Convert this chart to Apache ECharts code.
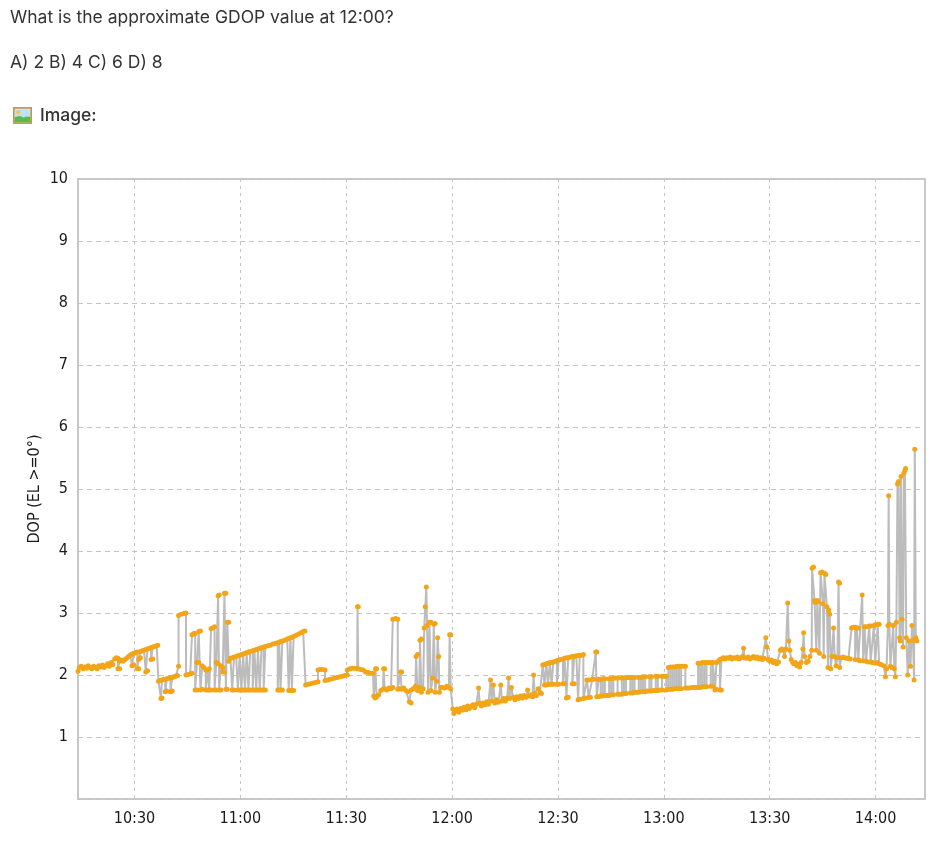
<!DOCTYPE html>
<html>
<head>
<meta charset="utf-8">
<script src="https://cdn.jsdelivr.net/npm/echarts@6/dist/echarts.min.js"></script>
<style>
  html, body { margin:0; padding:0; background:#fff; }
  body { width:945px; height:842px; position:relative; overflow:hidden; font-family: Inter, "Noto Sans", sans-serif; color:#333; }
  .q { position:absolute; left:10px; font-size:17.5px; line-height:17.5px; white-space:nowrap; }
  #chart { position:absolute; left:0; top:0; width:945px; height:842px; }
  .icon { position:absolute; left:13px; top:107px; width:19px; height:17px; }
</style>
</head>
<body>
<div id="chart"></div>
<div class="q" style="top:8px;">What is the approximate GDOP value at 12:00?</div>
<div class="q" style="top:53px;">A) 2 B) 4 C) 6 D) 8</div>
<svg class="icon" viewBox="0 0 18 16">
  <rect x="0.75" y="0.75" width="16.5" height="14.5" fill="#bfe3f5" stroke="#c9934a" stroke-width="1.5"/>
  <circle cx="5" cy="5" r="2" fill="#f5c842"/>
  <path d="M1.5 14.5 L1.5 10 Q6 7 10 10 Q13 8 16.5 9.5 L16.5 14.5 Z" fill="#5fb84a"/>
</svg>
<div class="q" style="top:106px; left:40px; font-weight:500;">Image:</div>
<script>
// x values: minutes after 10:00
const xTickMinutes = [30, 60, 90, 120, 150, 180, 210, 240];
const yTicks = [0,1,2,3,4,5,6,7,8,9,10];

const segA = [[14.0,2.06],[14.4,2.12],[14.9,2.14],[15.4,2.1],[15.9,2.13],[16.4,2.11],[16.9,2.15],[17.4,2.12],[17.9,2.1],[18.4,2.14],[18.9,2.12],[19.4,2.1],[19.9,2.15],[20.4,2.13],[20.9,2.16],[21.4,2.12],[21.9,2.15],[22.4,2.18],[22.9,2.14],[23.4,2.2],[23.9,2.17],
[24.4,2.26],[24.9,2.28],[25.3,2.27],[25.3,2.1],[25.8,2.1],[25.8,2.22],[26.3,2.24],[26.8,2.22],[27.3,2.25],[27.8,2.27],[28.3,2.3],[28.8,2.32],[29.3,2.34],[29.3,2.15],[29.8,2.16],[29.8,2.35],[30.3,2.36],[30.8,2.37],[30.8,2.1],[31.2,2.1],[31.2,2.25],[31.7,2.28],[31.7,2.38],[32.2,2.39],[32.7,2.4],[33.2,2.41],[33.2,2.05],[33.7,2.07],[33.7,2.42],[34.2,2.43],[34.7,2.44],[34.7,2.25],[35.2,2.26],[35.2,2.45],[35.7,2.46],[36.3,2.47],[36.6,2.48]];
const segB = [[36.8,1.9],[37.3,1.91],[37.5,1.62],[37.8,1.63],[37.8,1.92],[38.3,1.93],[38.7,1.93],[38.7,1.73],[39.2,1.74],[39.2,1.94],[39.7,1.95],[40.2,1.95],[40.2,1.73],[40.7,1.74],[40.7,1.96],[41.2,1.97],[41.7,1.98],[42.2,1.99]];
const segC = [[42.5,2.14],[42.5,2.96],[43.2,2.98],[44.0,2.99],[44.6,3.0],[44.6,2.0],[45.2,2.01],[45.8,2.02],[46.3,2.03],[46.3,2.65],[46.8,2.67],[47.2,2.67],[47.2,1.76],[47.7,1.76],[47.7,2.2],[48.2,2.2],[48.2,2.7],[48.7,2.71],[48.7,1.76],[49.2,1.77],[49.2,2.15],[49.7,2.12],[50.2,2.08],[50.2,1.76],[50.7,1.76],[50.7,2.08],[51.2,2.1],[51.2,1.76],[51.7,1.76],[51.7,2.75],[52.2,2.76],[52.7,2.78],[52.7,1.76],[53.2,1.76],[53.2,2.2],[53.7,2.18],[53.7,3.28],[54.0,3.29],[54.0,1.76],[54.5,1.76],[54.5,2.15],[55.0,2.12],[55.0,2.05],[55.5,2.05],[55.5,3.32],[55.9,3.32],[55.9,1.77],[56.3,1.77],[56.3,2.85],[56.7,2.85],[56.7,2.22]];
const segD = [[57.2,2.27],[57.7,2.28],[57.7,1.76],[58.2,1.76],[58.2,2.29],[58.8,2.3],[59.3,2.31],[59.3,1.76],[59.8,1.76],[59.8,2.32],[60.3,2.33],[60.3,1.76],[60.8,1.76],[60.8,2.34],[61.3,2.35],[61.3,1.76],[61.8,1.76],[61.8,2.36],[62.3,2.37],[62.3,1.76],[62.8,1.76],[62.8,2.38],[63.5,2.39],[63.5,1.76],[64.0,1.76],[64.0,2.4],[64.5,2.41],[64.5,1.76],[65.0,1.76],[65.0,2.42],[65.5,2.43],[65.5,1.76],[66.0,1.76],[66.0,2.44],[66.6,2.45],[66.6,1.76],[67.1,1.76],[67.1,2.46],[67.8,2.47],[68.5,2.48],[69.2,2.5],[69.9,2.51],[70.6,2.52],[70.6,1.76],[71.0,1.76],[71.0,2.53],[71.4,2.54],[71.4,1.76],[71.9,1.76],[71.9,2.55],[72.6,2.56],[73.3,2.58],[73.7,2.59],[73.7,1.75],[74.2,1.75],[74.2,2.6],[74.6,2.61],[74.6,1.75],[75.1,1.75],[75.1,2.62],[75.8,2.64],[76.5,2.66],[77.2,2.68],[77.8,2.7],[78.3,2.71]];
const segE = [[78.5,1.84],[79.2,1.85],[79.9,1.86],[80.6,1.87],[81.3,1.88],[82.0,1.89],[82.0,2.08],[82.6,2.09],[83.3,2.09],[84.0,2.08],[84.0,1.91],[84.7,1.92],[85.4,1.93],[86.1,1.94],[86.8,1.95],[87.5,1.96],[88.2,1.97],[88.9,1.98],[89.6,1.99],[90.3,2.0]];
const segF = [[90.3,2.08],[91.0,2.1],[91.7,2.11],[92.4,2.11],[93.1,2.1],[93.2,3.1],[93.4,3.1],[93.4,2.1],[94.1,2.09],[94.8,2.08],[95.5,2.05],[96.2,2.04],[96.9,2.03],[97.6,2.03]];
const segG = [[97.8,1.66],[98.2,1.63],[98.3,2.1],[98.6,2.1],[98.6,1.65],[99.2,1.68],[99.8,1.75],[100.4,1.77],[100.6,2.1],[100.9,2.1],[100.9,1.78],[101.5,1.76],[102.1,1.79],[102.7,1.78],[103.2,1.8],[103.2,2.9],[104.0,2.91],[104.6,2.9],[104.6,1.77],[105.1,1.78],[105.4,2.05],[105.7,2.05],[105.7,1.77],[106.3,1.79],[106.9,1.75],[107.4,1.73],[107.9,1.57],[108.4,1.55],[108.4,1.76],[109.0,1.78],[109.6,1.82],[109.8,2.3],[110.2,2.33],[110.2,1.75],[110.7,1.8],[110.9,2.56],[111.3,2.58],[111.3,1.72],[111.8,1.78],[112.1,2.76],[112.4,3.1],[112.7,3.42],[112.9,2.8],[113.2,1.72],[113.6,2.85],[114.0,2.85],[114.0,1.75],[114.5,1.95],[114.8,2.82],[115.2,2.83],[115.2,1.72],[115.6,1.9],[115.9,2.6],[116.2,2.3],[116.4,1.72],[116.8,1.8],[117.3,1.8],[117.9,1.79],[118.5,1.82],[119.1,1.8],[119.3,2.65],[119.6,2.65],[119.6,1.78],[120.2,1.45],[120.5,1.38]];
const segH = [[120.9,1.42],[121.4,1.45],[121.9,1.4],[122.4,1.46],[122.9,1.43],[123.4,1.48],[123.9,1.44],[124.4,1.5],[124.9,1.46],[125.4,1.49],[125.9,1.52],[126.4,1.47],[126.9,1.53],[127.5,1.79],[127.8,1.55],[128.3,1.5],[128.8,1.55],[129.3,1.52],[129.8,1.57],[130.3,1.53],[130.9,1.92],[131.2,1.58],[131.7,1.84],[132.1,1.55],[132.6,1.6],[133.1,1.56],[133.8,1.84],[134.1,1.58],[134.6,1.62],[135.1,1.58],[135.6,1.63],[136.0,1.95],[136.3,1.62],[136.8,1.8],[137.3,1.64],[137.8,1.6],[138.3,1.65],[138.8,1.62],[139.4,1.66],[139.9,1.63],[140.4,1.67],[141.0,1.64],[141.4,1.76],[141.8,1.66],[142.3,1.68],[142.8,1.65],[143.1,2.0],[143.4,1.7],[143.9,1.67],[144.4,1.78],[144.9,1.72],[145.3,1.7]];
const segI = [[145.7,2.16],[146.2,2.17],[146.2,1.84],[146.7,1.84],[146.7,2.18],[147.2,2.19],[147.2,1.85],[147.7,1.85],[147.7,2.2],[148.2,2.2],[148.2,1.85],[148.7,1.85],[148.7,2.21],[149.2,2.22],[149.7,2.23],[149.7,1.85],[150.2,1.85],[150.2,2.24],[150.8,2.25],[151.4,2.26],[151.4,1.86],[151.9,1.86],[151.9,2.27],[152.4,2.28],[152.4,1.63],[152.9,1.64],[152.9,2.28],[153.5,2.29],[154.1,2.3],[154.1,1.86],[154.6,1.86],[154.6,2.3],[155.2,2.31],[155.7,2.31],[155.7,1.6],[156.2,1.61],[156.2,2.32],[156.7,2.32],[157.2,2.33],[157.2,1.62]];
const segJ = [[157.7,1.63],[158.2,1.92],[158.7,1.92],[158.7,1.64],[159.2,1.64],[159.7,1.93],[160.2,1.93],[160.7,2.37],[161.0,2.37],[161.0,1.65],[161.5,1.65],[161.5,1.93],[162.1,1.93],[162.1,1.66],[162.7,1.66],[162.7,1.94],[163.3,1.94],[163.3,1.67],[163.9,1.67],[164.5,1.67],[164.5,1.94],[165.1,1.94],[165.1,1.68],[165.7,1.68],[165.7,1.95],[166.3,1.95],[166.9,1.95],[166.9,1.69],[167.5,1.69],[168.1,1.69],[168.1,1.95],[168.7,1.95],[168.7,1.7],[169.3,1.7],[169.3,1.96],[169.9,1.96],[170.5,1.96],[170.5,1.71],[171.1,1.71],[171.1,1.96],[171.7,1.96],[171.7,1.72],[172.3,1.72],[172.9,1.72],[172.9,1.96],[173.5,1.96],[173.5,1.73],[174.1,1.73],[174.1,1.97],[174.7,1.97],[174.7,1.73],[175.3,1.74],[175.9,1.74],[175.9,1.97],[176.5,1.97],[176.5,1.74],[177.1,1.75],[177.7,1.75],[177.7,1.98],[178.3,1.98],[178.3,1.75],[178.9,1.76],[179.5,1.76],[179.5,1.98],[180.1,1.98],[180.7,1.98],[180.7,1.76],[181.3,1.77],[181.3,2.12],[181.9,2.13],[181.9,1.77],[182.5,1.77],[182.5,2.13],[183.1,2.13],[183.1,1.78],[183.7,1.78],[183.7,2.14],[184.3,2.14],[184.3,1.78],[184.9,1.78],[184.9,2.14],[185.5,2.14],[186.1,2.14],[186.1,1.79],[186.7,1.79],[187.3,1.79],[187.9,1.8],[188.5,1.8],[189.1,1.8],[189.7,1.8],[189.7,2.19],[190.3,2.19],[190.3,1.8],[190.9,1.81],[190.9,2.2],[191.5,2.2],[191.5,1.81],[192.1,1.81],[192.1,2.2],[192.7,2.2],[193.3,2.2],[193.3,1.82],[193.9,1.82],[193.9,2.2]];
const segK = [[194.5,1.76],[194.9,1.77],[194.9,2.2],[195.4,2.22],[195.9,2.25],[195.9,1.76],[196.3,1.76],[196.3,2.26],[196.8,2.28],[197.3,2.26],[197.8,2.28],[198.3,2.27],[198.8,2.29],[199.3,2.26],[199.8,2.28],[200.3,2.27],[200.8,2.29],[201.3,2.26],[201.8,2.28],[202.3,2.3],[202.6,2.43],[202.9,2.28],[203.4,2.27],[203.9,2.29],[204.4,2.26],[204.9,2.28],[205.4,2.3],[205.9,2.27],[206.4,2.29],[206.9,2.26],[207.4,2.28],[207.9,2.25],[208.4,2.27],[208.9,2.6],[209.2,2.45],[209.5,2.25],[210.0,2.22],[210.5,2.24],[211.0,2.2],[211.5,2.22],[212.0,2.18],[212.5,2.21],[213.0,2.4],[213.4,2.42],[213.8,2.4],[214.2,2.3],[214.6,2.42],[215.1,3.16],[215.4,2.55],[215.7,2.4],[216.1,2.25],[216.5,2.2],[216.9,2.18],[217.3,2.2],[217.7,2.15],[218.1,2.17],[218.5,2.13],[218.9,2.2],[219.4,2.42],[219.6,2.68],[219.9,2.3],[220.4,2.2],[220.9,2.22]];
const segL = [[221.4,2.3],[221.9,2.4],[222.0,3.72],[222.4,3.74],[222.7,3.2],[222.9,3.17],[223.2,2.4],[223.5,3.2],[223.8,3.18],[224.1,2.35],[224.4,3.65],[224.8,3.66],[225.1,3.15],[225.3,2.3],[225.5,3.64],[225.9,3.62],[226.2,3.1],[226.5,2.12],[226.7,3.05],[227.0,2.98],[227.3,2.1],[227.6,2.3],[228.1,2.76],[228.4,2.3],[228.8,2.15],[229.2,2.28],[229.5,3.5],[229.8,3.48],[229.8,2.12],[230.3,2.28],[230.8,2.29],[231.3,2.28],[231.8,2.27]];
const segM = [[232.3,2.27],[232.8,2.26],[233.2,2.76],[233.7,2.77],[234.2,2.77],[234.2,2.25],[234.7,2.76],[235.1,2.76],[235.1,2.24],[235.6,2.23],[236.2,3.29],[236.5,2.23],[236.9,2.78],[237.3,2.78],[237.3,2.22],[237.8,2.21],[238.2,2.79],[238.6,2.79],[238.6,2.21],[239.1,2.2],[239.5,2.8],[239.9,2.81],[239.9,2.19],[240.4,2.2],[240.6,2.82],[241.0,2.82],[241.0,2.18],[241.5,2.17]];
const segN = [[242.3,2.15],[242.8,1.97],[243.1,2.1],[243.5,2.8],[243.7,4.89],[243.9,2.82],[244.2,2.14],[244.6,2.12],[245.0,2.8],[245.3,2.1],[245.6,1.97],[245.9,2.85],[246.2,5.08],[246.5,5.12],[246.8,2.6],[247.0,2.55],[247.2,5.2],[247.5,2.9],[247.8,2.45],[248.0,5.26],[248.3,5.3],[248.5,5.33],[248.7,2.6],[249.1,2.0],[249.5,2.55],[249.9,2.14],[250.3,2.8],[250.6,2.56],[250.9,1.92],[251.1,5.64],[251.4,2.6],[251.7,2.55]];

const gdopSeries = [].concat(segA, segB, segC, segD, segE, segF, segG, segH, segI, segJ, segK, segL, segM, segN);

function fmtTime(m) {
  const total = 600 + Math.round(m);
  const h = Math.floor(total / 60), mm = total % 60;
  return h + ':' + (mm < 10 ? '0' : '') + mm;
}

const labelFont = "'DejaVu Sans Condensed', 'DejaVu Sans', sans-serif";
const chart = echarts.init(document.getElementById('chart'), null, {renderer: 'canvas'});
chart.setOption({
  animation: false,
  grid: { left: 78, right: 20, top: 179, bottom: 43, show: true, borderColor: '#c8c8c8', borderWidth: 2, backgroundColor: 'transparent' },
  xAxis: {
    type: 'value', min: 14, max: 254,
    axisLine: { show: false },
    axisTick: { show: false, customValues: xTickMinutes },
    axisLabel: { customValues: xTickMinutes, formatter: fmtTime, color: '#1a1a1a', fontFamily: labelFont, fontSize: 16, margin: 12 },
    splitLine: { show: true, lineStyle: { color: '#c4c4c4', type: [3, 4], width: 1 } }
  },
  yAxis: {
    type: 'value', min: yTicks[0], max: yTicks[yTicks.length - 1], interval: 1,
    name: 'DOP (EL >=0°)', nameLocation: 'middle', nameGap: 35, nameRotate: 90,
    nameMoveOverlap: false,
    nameTextStyle: { color: '#1a1a1a', fontFamily: labelFont, fontSize: 16 },
    axisLine: { show: false }, axisTick: { show: false },
    axisLabel: { formatter: v => v === 0 ? '' : String(v), color: '#1a1a1a', fontFamily: labelFont, fontSize: 16, margin: 10 },
    splitLine: { show: true, lineStyle: { color: '#c4c4c4', type: [5, 4], width: 1 } }
  },
  series: [{
    type: 'line',
    data: gdopSeries,
    showAllSymbol: true,
    symbol: 'circle', symbolSize: 5,
    itemStyle: { color: '#f2a516' },
    lineStyle: { color: '#bcbcbc', width: 2 },
    silent: true
  }]
});
</script>
</body>
</html>
